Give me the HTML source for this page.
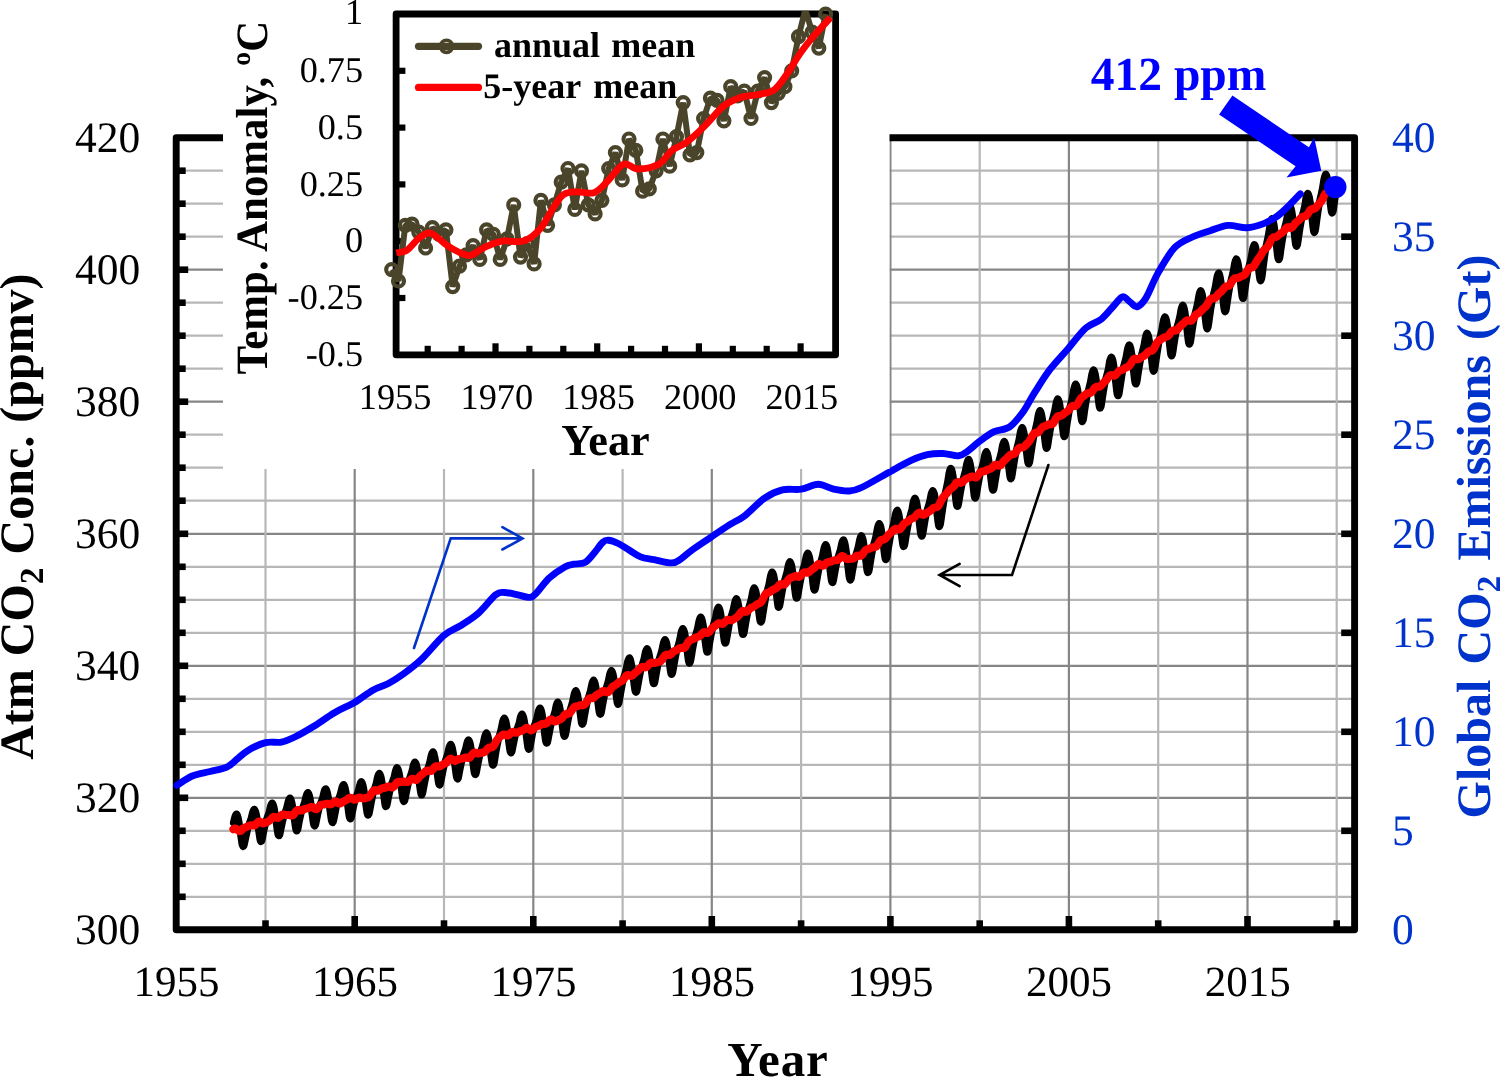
<!DOCTYPE html>
<html><head><meta charset="utf-8"><title>CO2</title>
<style>html,body{margin:0;padding:0;background:#fff;}body{width:1500px;height:1077px;position:relative;overflow:hidden;font-family:"Liberation Serif",serif;}</style></head>
<body>
<svg width="1500" height="1077" viewBox="0 0 1500 1077" style="position:absolute;left:0;top:0;will-change:transform;font-family:'Liberation Serif', serif;font-kerning:normal;text-rendering:geometricPrecision">
<rect x="0" y="0" width="1500" height="1077" fill="#fff"/>
<g stroke-width="2.2" fill="none"><line x1="176.2" x2="1354.6" y1="896.8" y2="896.8" stroke="#b7b7b7"/><line x1="176.2" x2="1354.6" y1="863.8" y2="863.8" stroke="#b7b7b7"/><line x1="176.2" x2="1354.6" y1="830.8" y2="830.8" stroke="#b7b7b7"/><line x1="176.2" x2="1354.6" y1="797.8" y2="797.8" stroke="#868686"/><line x1="176.2" x2="1354.6" y1="764.8" y2="764.8" stroke="#b7b7b7"/><line x1="176.2" x2="1354.6" y1="731.8" y2="731.8" stroke="#b7b7b7"/><line x1="176.2" x2="1354.6" y1="698.8" y2="698.8" stroke="#b7b7b7"/><line x1="176.2" x2="1354.6" y1="665.8" y2="665.8" stroke="#868686"/><line x1="176.2" x2="1354.6" y1="632.8" y2="632.8" stroke="#b7b7b7"/><line x1="176.2" x2="1354.6" y1="599.8" y2="599.8" stroke="#b7b7b7"/><line x1="176.2" x2="1354.6" y1="566.8" y2="566.8" stroke="#b7b7b7"/><line x1="176.2" x2="1354.6" y1="533.8" y2="533.8" stroke="#868686"/><line x1="176.2" x2="1354.6" y1="500.7" y2="500.7" stroke="#b7b7b7"/><line x1="176.2" x2="1354.6" y1="467.7" y2="467.7" stroke="#b7b7b7"/><line x1="176.2" x2="1354.6" y1="434.7" y2="434.7" stroke="#b7b7b7"/><line x1="176.2" x2="1354.6" y1="401.7" y2="401.7" stroke="#868686"/><line x1="176.2" x2="1354.6" y1="368.7" y2="368.7" stroke="#b7b7b7"/><line x1="176.2" x2="1354.6" y1="335.7" y2="335.7" stroke="#b7b7b7"/><line x1="176.2" x2="1354.6" y1="302.7" y2="302.7" stroke="#b7b7b7"/><line x1="176.2" x2="1354.6" y1="269.7" y2="269.7" stroke="#868686"/><line x1="176.2" x2="1354.6" y1="236.7" y2="236.7" stroke="#b7b7b7"/><line x1="176.2" x2="1354.6" y1="203.7" y2="203.7" stroke="#b7b7b7"/><line x1="176.2" x2="1354.6" y1="170.7" y2="170.7" stroke="#b7b7b7"/><line x1="265.5" x2="265.5" y1="137.7" y2="929.8" stroke="#b7b7b7"/><line x1="354.7" x2="354.7" y1="137.7" y2="929.8" stroke="#868686"/><line x1="444" x2="444" y1="137.7" y2="929.8" stroke="#b7b7b7"/><line x1="533.3" x2="533.3" y1="137.7" y2="929.8" stroke="#868686"/><line x1="622.6" x2="622.6" y1="137.7" y2="929.8" stroke="#b7b7b7"/><line x1="711.8" x2="711.8" y1="137.7" y2="929.8" stroke="#868686"/><line x1="801.1" x2="801.1" y1="137.7" y2="929.8" stroke="#b7b7b7"/><line x1="890.4" x2="890.4" y1="137.7" y2="929.8" stroke="#868686"/><line x1="979.7" x2="979.7" y1="137.7" y2="929.8" stroke="#b7b7b7"/><line x1="1068.9" x2="1068.9" y1="137.7" y2="929.8" stroke="#868686"/><line x1="1158.2" x2="1158.2" y1="137.7" y2="929.8" stroke="#b7b7b7"/><line x1="1247.5" x2="1247.5" y1="137.7" y2="929.8" stroke="#868686"/><line x1="1336.7" x2="1336.7" y1="137.7" y2="929.8" stroke="#b7b7b7"/></g>
<g stroke="#000" stroke-width="6.6" fill="none"><line x1="176.2" x2="185.7" y1="896.8" y2="896.8"/><line x1="176.2" x2="185.7" y1="863.8" y2="863.8"/><line x1="176.2" x2="185.7" y1="830.8" y2="830.8"/><line x1="176.2" x2="188.2" y1="797.8" y2="797.8"/><line x1="176.2" x2="185.7" y1="764.8" y2="764.8"/><line x1="176.2" x2="185.7" y1="731.8" y2="731.8"/><line x1="176.2" x2="185.7" y1="698.8" y2="698.8"/><line x1="176.2" x2="188.2" y1="665.8" y2="665.8"/><line x1="176.2" x2="185.7" y1="632.8" y2="632.8"/><line x1="176.2" x2="185.7" y1="599.8" y2="599.8"/><line x1="176.2" x2="185.7" y1="566.8" y2="566.8"/><line x1="176.2" x2="188.2" y1="533.8" y2="533.8"/><line x1="176.2" x2="185.7" y1="500.7" y2="500.7"/><line x1="176.2" x2="185.7" y1="467.7" y2="467.7"/><line x1="176.2" x2="185.7" y1="434.7" y2="434.7"/><line x1="176.2" x2="188.2" y1="401.7" y2="401.7"/><line x1="176.2" x2="185.7" y1="368.7" y2="368.7"/><line x1="176.2" x2="185.7" y1="335.7" y2="335.7"/><line x1="176.2" x2="185.7" y1="302.7" y2="302.7"/><line x1="176.2" x2="188.2" y1="269.7" y2="269.7"/><line x1="176.2" x2="185.7" y1="236.7" y2="236.7"/><line x1="176.2" x2="185.7" y1="203.7" y2="203.7"/><line x1="176.2" x2="185.7" y1="170.7" y2="170.7"/><line x1="265.5" x2="265.5" y1="929.8" y2="920.3"/><line x1="354.7" x2="354.7" y1="929.8" y2="916"/><line x1="444" x2="444" y1="929.8" y2="920.3"/><line x1="533.3" x2="533.3" y1="929.8" y2="916"/><line x1="622.6" x2="622.6" y1="929.8" y2="920.3"/><line x1="711.8" x2="711.8" y1="929.8" y2="916"/><line x1="801.1" x2="801.1" y1="929.8" y2="920.3"/><line x1="890.4" x2="890.4" y1="929.8" y2="916"/><line x1="979.7" x2="979.7" y1="929.8" y2="920.3"/><line x1="1068.9" x2="1068.9" y1="929.8" y2="916"/><line x1="1158.2" x2="1158.2" y1="929.8" y2="920.3"/><line x1="1247.5" x2="1247.5" y1="929.8" y2="916"/><line x1="1336.7" x2="1336.7" y1="929.8" y2="920.3"/><line x1="1354.6" x2="1341.2" y1="830.8" y2="830.8"/><line x1="1354.6" x2="1341.2" y1="731.8" y2="731.8"/><line x1="1354.6" x2="1341.2" y1="632.8" y2="632.8"/><line x1="1354.6" x2="1341.2" y1="533.8" y2="533.8"/><line x1="1354.6" x2="1341.2" y1="434.7" y2="434.7"/><line x1="1354.6" x2="1341.2" y1="335.7" y2="335.7"/><line x1="1354.6" x2="1341.2" y1="236.7" y2="236.7"/></g>
<rect x="176.2" y="137.7" width="1178.4" height="792.1" fill="none" stroke="#000" stroke-width="6.9" stroke-linejoin="round"/>
<path d="M233.5 822.7 C233.7 821.7 234.5 818.1 235 816.7 C235.5 815.2 236 814 236.5 814.1 C237 814.2 237.5 815.4 237.9 817.2 C238.4 819.1 238.9 821.9 239.4 825 C239.9 828.1 240.4 832.5 240.9 835.9 C241.4 839.2 241.9 843.7 242.4 845.3 C242.9 847 243.4 846.9 243.9 845.8 C244.4 844.7 244.9 841.2 245.4 838.9 C245.9 836.6 246.4 834.2 246.9 832.1 C247.4 830 247.9 828 248.4 826.3 C248.9 824.7 249.4 823.7 249.8 822.3 C250.3 820.9 250.8 819.6 251.3 817.9 C251.8 816.2 252.3 813.3 252.8 811.8 C253.3 810.4 253.8 809.2 254.3 809.3 C254.8 809.4 255.3 810.6 255.8 812.4 C256.3 814.2 256.8 817 257.3 820.1 C257.8 823.2 258.3 827.6 258.8 831 C259.3 834.3 259.8 838.8 260.3 840.4 C260.8 842 261.3 841.8 261.8 840.7 C262.2 839.6 262.7 836 263.2 833.7 C263.7 831.3 264.2 828.8 264.7 826.6 C265.2 824.5 265.7 822.4 266.2 820.7 C266.7 819 267.2 817.9 267.7 816.5 C268.2 815 268.7 813.7 269.2 812 C269.7 810.2 270.2 807.2 270.7 805.8 C271.2 804.3 271.7 803 272.2 803.1 C272.7 803.2 273.2 804.4 273.7 806.2 C274.2 808 274.6 810.9 275.1 814 C275.6 817.1 276.1 821.5 276.6 824.9 C277.1 828.3 277.6 832.8 278.1 834.5 C278.6 836.1 279.1 836 279.6 834.9 C280.1 833.8 280.6 830.3 281.1 828 C281.6 825.7 282.1 823.2 282.6 821.1 C283.1 818.9 283.6 816.9 284.1 815.3 C284.6 813.6 285.1 812.6 285.6 811.2 C286.1 809.7 286.6 808.5 287 806.8 C287.5 805 288 802.1 288.5 800.7 C289 799.2 289.5 798 290 798.1 C290.5 798.2 291 799.4 291.5 801.3 C292 803.1 292.5 806 293 809.1 C293.5 812.3 294 816.7 294.5 820.1 C295 823.6 295.5 828 296 829.7 C296.5 831.4 297 831.2 297.5 830.1 C298 829 298.5 825.4 298.9 823 C299.4 820.7 299.9 818.1 300.4 816 C300.9 813.8 301.4 811.8 301.9 810.1 C302.4 808.4 302.9 807.3 303.4 805.9 C303.9 804.4 304.4 803.2 304.9 801.4 C305.4 799.6 305.9 796.7 306.4 795.2 C306.9 793.8 307.4 792.5 307.9 792.6 C308.4 792.7 308.9 794 309.4 795.8 C309.9 797.7 310.4 800.6 310.9 803.8 C311.3 807 311.8 811.5 312.3 815 C312.8 818.5 313.3 823 313.8 824.7 C314.3 826.5 314.8 826.4 315.3 825.3 C315.8 824.3 316.3 820.7 316.8 818.4 C317.3 816.1 317.8 813.6 318.3 811.5 C318.8 809.4 319.3 807.4 319.8 805.8 C320.3 804.1 320.8 803.1 321.3 801.7 C321.8 800.3 322.3 799.1 322.8 797.4 C323.3 795.7 323.7 792.8 324.2 791.4 C324.7 789.9 325.2 788.7 325.7 788.9 C326.2 789 326.7 790.3 327.2 792.2 C327.7 794.1 328.2 797 328.7 800.2 C329.2 803.5 329.7 808 330.2 811.5 C330.7 815 331.2 819.5 331.7 821.2 C332.2 823 332.7 822.8 333.2 821.8 C333.7 820.7 334.2 817.1 334.7 814.7 C335.2 812.4 335.7 809.9 336.1 807.7 C336.6 805.6 337.1 803.5 337.6 801.8 C338.1 800.2 338.6 799.1 339.1 797.7 C339.6 796.3 340.1 795 340.6 793.3 C341.1 791.5 341.6 788.6 342.1 787.1 C342.6 785.7 343.1 784.5 343.6 784.6 C344.1 784.7 344.6 786 345.1 787.9 C345.6 789.9 346.1 792.8 346.6 796.1 C347.1 799.3 347.6 803.9 348 807.5 C348.5 811 349 815.7 349.5 817.4 C350 819.2 350.5 819.1 351 818.1 C351.5 817.1 352 813.5 352.5 811.2 C353 808.9 353.5 806.4 354 804.4 C354.5 802.3 355 800.2 355.5 798.6 C356 797 356.5 796 357 794.6 C357.5 793.3 358 792.1 358.5 790.3 C359 788.6 359.5 785.7 360 784.3 C360.4 782.8 360.9 781.6 361.4 781.8 C361.9 781.9 362.4 783.2 362.9 785.1 C363.4 787 363.9 790 364.4 793.2 C364.9 796.5 365.4 801 365.9 804.4 C366.4 807.9 366.9 812.4 367.4 814 C367.9 815.7 368.4 815.4 368.9 814.2 C369.4 813 369.9 809.2 370.4 806.7 C370.9 804.2 371.4 801.5 371.9 799.1 C372.4 796.8 372.8 794.6 373.3 792.7 C373.8 790.9 374.3 789.6 374.8 788 C375.3 786.4 375.8 785 376.3 783.1 C376.8 781.1 377.3 778 377.8 776.4 C378.3 774.8 378.8 773.4 379.3 773.4 C379.8 773.4 380.3 774.6 380.8 776.4 C381.3 778.2 381.8 781.2 382.3 784.4 C382.8 787.6 383.3 792.1 383.8 795.6 C384.3 799.1 384.8 803.7 385.2 805.4 C385.7 807.1 386.2 806.9 386.7 805.8 C387.2 804.7 387.7 801 388.2 798.6 C388.7 796.2 389.2 793.6 389.7 791.4 C390.2 789.2 390.7 787.1 391.2 785.4 C391.7 783.7 392.2 782.7 392.7 781.2 C393.2 779.7 393.7 778.5 394.2 776.7 C394.7 774.8 395.2 771.8 395.7 770.3 C396.2 768.8 396.7 767.6 397.1 767.7 C397.6 767.8 398.1 769 398.6 770.9 C399.1 772.8 399.6 775.8 400.1 779 C400.6 782.3 401.1 786.8 401.6 790.4 C402.1 793.9 402.6 798.6 403.1 800.3 C403.6 802 404.1 801.9 404.6 800.8 C405.1 799.6 405.6 795.9 406.1 793.5 C406.6 791.1 407.1 788.5 407.6 786.3 C408.1 784.1 408.6 782 409.1 780.2 C409.5 778.5 410 777.4 410.5 775.9 C411 774.4 411.5 773.1 412 771.3 C412.5 769.4 413 766.4 413.5 764.9 C414 763.3 414.5 762 415 762.1 C415.5 762.1 416 763.4 416.5 765.2 C417 767.1 417.5 770 418 773.2 C418.5 776.4 419 780.9 419.5 784.3 C420 787.8 420.5 792.3 421 793.9 C421.5 795.5 421.9 795.2 422.4 793.9 C422.9 792.7 423.4 788.8 423.9 786.2 C424.4 783.6 424.9 780.8 425.4 778.4 C425.9 776 426.4 773.7 426.9 771.8 C427.4 769.9 427.9 768.6 428.4 767 C428.9 765.3 429.4 763.9 429.9 761.9 C430.4 759.9 430.9 756.7 431.4 755 C431.9 753.3 432.4 751.9 432.9 751.9 C433.4 751.8 433.9 753 434.3 754.8 C434.8 756.7 435.3 759.6 435.8 762.8 C436.3 766 436.8 770.5 437.3 774 C437.8 777.5 438.3 782.1 438.8 783.8 C439.3 785.5 439.8 785.3 440.3 784 C440.8 782.8 441.3 779 441.8 776.6 C442.3 774.1 442.8 771.4 443.3 769.1 C443.8 766.8 444.3 764.6 444.8 762.8 C445.3 761 445.8 759.9 446.2 758.4 C446.7 756.8 447.2 755.5 447.7 753.6 C448.2 751.7 448.7 748.7 449.2 747.1 C449.7 745.6 450.2 744.3 450.7 744.3 C451.2 744.4 451.7 745.7 452.2 747.6 C452.7 749.6 453.2 752.6 453.7 755.9 C454.2 759.2 454.7 763.9 455.2 767.5 C455.7 771.1 456.2 775.8 456.7 777.6 C457.2 779.4 457.7 779.3 458.2 778.2 C458.6 777.1 459.1 773.4 459.6 771 C460.1 768.6 460.6 766 461.1 763.8 C461.6 761.5 462.1 759.4 462.6 757.7 C463.1 756 463.6 755 464.1 753.5 C464.6 752.1 465.1 750.8 465.6 749 C466.1 747.2 466.6 744.1 467.1 742.6 C467.6 741.1 468.1 739.8 468.6 740 C469.1 740.1 469.6 741.4 470.1 743.3 C470.6 745.3 471 748.3 471.5 751.6 C472 754.9 472.5 759.6 473 763.2 C473.5 766.8 474 771.5 474.5 773.2 C475 775 475.5 774.8 476 773.6 C476.5 772.4 477 768.6 477.5 766.1 C478 763.6 478.5 760.9 479 758.6 C479.5 756.3 480 754.1 480.5 752.3 C481 750.4 481.5 749.3 482 747.7 C482.5 746.1 483 744.7 483.4 742.8 C483.9 740.8 484.4 737.6 484.9 736 C485.4 734.4 485.9 732.9 486.4 732.9 C486.9 732.9 487.4 734.1 487.9 735.9 C488.4 737.8 488.9 740.7 489.4 743.9 C489.9 747 490.4 751.5 490.9 754.9 C491.4 758.3 491.9 762.8 492.4 764.3 C492.9 765.7 493.4 765.3 493.9 763.8 C494.4 762.3 494.9 758.2 495.3 755.4 C495.8 752.5 496.3 749.5 496.8 746.9 C497.3 744.2 497.8 741.7 498.3 739.6 C498.8 737.5 499.3 736 499.8 734.2 C500.3 732.4 500.8 730.7 501.3 728.6 C501.8 726.5 502.3 723.1 502.8 721.3 C503.3 719.6 503.8 718 504.3 718 C504.8 718 505.3 719.2 505.8 721.1 C506.3 723 506.8 726.1 507.3 729.4 C507.7 732.8 508.2 737.5 508.7 741.2 C509.2 744.9 509.7 749.7 510.2 751.5 C510.7 753.3 511.2 753.2 511.7 752.1 C512.2 751 512.7 747.3 513.2 744.9 C513.7 742.5 514.2 739.9 514.7 737.7 C515.2 735.5 515.7 733.4 516.2 731.7 C516.7 730 517.2 728.9 517.7 727.5 C518.2 726 518.7 724.8 519.2 723 C519.7 721.2 520.1 718.1 520.6 716.6 C521.1 715.1 521.6 713.9 522.1 714 C522.6 714.2 523.1 715.6 523.6 717.6 C524.1 719.6 524.6 722.7 525.1 726.1 C525.6 729.4 526.1 734.2 526.6 737.9 C527.1 741.5 527.6 746.3 528.1 748.1 C528.6 749.9 529.1 749.7 529.6 748.6 C530.1 747.4 530.6 743.5 531.1 741 C531.6 738.5 532.1 735.7 532.5 733.4 C533 731.1 533.5 728.9 534 727 C534.5 725.2 535 724.1 535.5 722.5 C536 720.9 536.5 719.6 537 717.6 C537.5 715.7 538 712.5 538.5 710.9 C539 709.3 539.5 708 540 708 C540.5 708.1 541 709.4 541.5 711.4 C542 713.3 542.5 716.4 543 719.8 C543.5 723.1 544 727.9 544.4 731.6 C544.9 735.3 545.4 740.1 545.9 741.9 C546.4 743.7 546.9 743.5 547.4 742.4 C547.9 741.2 548.4 737.4 548.9 734.9 C549.4 732.4 549.9 729.6 550.4 727.3 C550.9 725 551.4 722.8 551.9 721 C552.4 719.2 552.9 718.1 553.4 716.6 C553.9 715 554.4 713.7 554.9 711.8 C555.4 709.8 555.9 706.7 556.4 705.1 C556.8 703.5 557.3 702.1 557.8 702.2 C558.3 702.2 558.8 703.5 559.3 705.4 C559.8 707.4 560.3 710.4 560.8 713.7 C561.3 717 561.8 721.7 562.3 725.3 C562.8 728.9 563.3 733.6 563.8 735.2 C564.3 736.9 564.8 736.6 565.3 735.2 C565.8 733.8 566.3 729.8 566.8 727.1 C567.3 724.4 567.8 721.4 568.3 718.9 C568.8 716.4 569.2 714 569.7 711.9 C570.2 709.9 570.7 708.6 571.2 706.8 C571.7 705 572.2 703.5 572.7 701.4 C573.2 699.2 573.7 695.9 574.2 694.1 C574.7 692.3 575.2 690.7 575.7 690.7 C576.2 690.6 576.7 691.7 577.2 693.6 C577.7 695.4 578.2 698.4 578.7 701.6 C579.2 704.9 579.7 709.5 580.2 713.1 C580.7 716.7 581.2 721.4 581.6 723.1 C582.1 724.8 582.6 724.5 583.1 723.1 C583.6 721.8 584.1 717.8 584.6 715.1 C585.1 712.5 585.6 709.6 586.1 707.1 C586.6 704.7 587.1 702.3 587.6 700.4 C588.1 698.4 588.6 697.1 589.1 695.5 C589.6 693.8 590.1 692.3 590.6 690.3 C591.1 688.2 591.6 684.9 592.1 683.2 C592.6 681.5 593.1 680 593.5 680 C594 680 594.5 681.2 595 683.1 C595.5 685 596 688 596.5 691.3 C597 694.6 597.5 699.3 598 703 C598.5 706.6 599 711.4 599.5 713.1 C600 714.8 600.5 714.6 601 713.3 C601.5 712 602 708 602.5 705.4 C603 702.7 603.5 699.9 604 697.5 C604.5 695 605 692.7 605.5 690.8 C605.9 688.9 606.4 687.6 606.9 686 C607.4 684.3 607.9 682.8 608.4 680.8 C608.9 678.8 609.4 675.5 609.9 673.7 C610.4 672 610.9 670.6 611.4 670.5 C611.9 670.5 612.4 671.7 612.9 673.6 C613.4 675.5 613.9 678.5 614.4 681.8 C614.9 685.1 615.4 689.8 615.9 693.3 C616.4 696.9 616.9 701.6 617.4 703.3 C617.9 704.9 618.3 704.6 618.8 703.1 C619.3 701.7 619.8 697.6 620.3 694.8 C620.8 692 621.3 689 621.8 686.5 C622.3 683.9 622.8 681.4 623.3 679.4 C623.8 677.3 624.3 675.9 624.8 674.2 C625.3 672.4 625.8 670.8 626.3 668.6 C626.8 666.5 627.3 663.1 627.8 661.3 C628.3 659.5 628.8 657.9 629.3 657.9 C629.8 657.8 630.3 659 630.7 660.9 C631.2 662.7 631.7 665.8 632.2 669.1 C632.7 672.4 633.2 677.2 633.7 680.9 C634.2 684.5 634.7 689.4 635.2 691.1 C635.7 692.8 636.2 692.6 636.7 691.3 C637.2 690 637.7 685.9 638.2 683.3 C638.7 680.6 639.2 677.8 639.7 675.3 C640.2 672.9 640.7 670.5 641.2 668.6 C641.7 666.7 642.2 665.4 642.6 663.8 C643.1 662.1 643.6 660.7 644.1 658.7 C644.6 656.6 645.1 653.3 645.6 651.6 C646.1 649.9 646.6 648.5 647.1 648.5 C647.6 648.5 648.1 649.8 648.6 651.8 C649.1 653.7 649.6 656.8 650.1 660.2 C650.6 663.6 651.1 668.4 651.6 672.1 C652.1 675.8 652.6 680.7 653.1 682.4 C653.6 684.2 654.1 684 654.6 682.7 C655 681.4 655.5 677.3 656 674.7 C656.5 672 657 669.1 657.5 666.7 C658 664.2 658.5 661.9 659 659.9 C659.5 658 660 656.7 660.5 655.1 C661 653.4 661.5 651.9 662 649.9 C662.5 647.8 663 644.5 663.5 642.8 C664 641 664.5 639.6 665 639.6 C665.5 639.6 666 640.8 666.5 642.7 C667 644.7 667.4 647.8 667.9 651.1 C668.4 654.5 668.9 659.3 669.4 663 C669.9 666.7 670.4 671.5 670.9 673.3 C671.4 675 671.9 674.7 672.4 673.3 C672.9 672 673.4 667.8 673.9 665.1 C674.4 662.3 674.9 659.4 675.4 656.8 C675.9 654.3 676.4 651.9 676.9 649.9 C677.4 647.8 677.9 646.5 678.4 644.8 C678.9 643 679.4 641.5 679.8 639.4 C680.3 637.2 680.8 633.8 681.3 632 C681.8 630.2 682.3 628.7 682.8 628.6 C683.3 628.6 683.8 629.8 684.3 631.7 C684.8 633.6 685.3 636.7 685.8 640 C686.3 643.4 686.8 648.2 687.3 651.9 C687.8 655.5 688.3 660.4 688.8 662.1 C689.3 663.8 689.8 663.5 690.3 662.1 C690.8 660.7 691.3 656.6 691.8 653.8 C692.2 651 692.7 648 693.2 645.5 C693.7 642.9 694.2 640.4 694.7 638.4 C695.2 636.4 695.7 635 696.2 633.3 C696.7 631.5 697.2 630 697.7 627.8 C698.2 625.7 698.7 622.3 699.2 620.5 C699.7 618.7 700.2 617.2 700.7 617.1 C701.2 617.1 701.7 618.3 702.2 620.3 C702.7 622.2 703.2 625.3 703.7 628.7 C704.1 632.1 704.6 636.9 705.1 640.7 C705.6 644.4 706.1 649.3 706.6 651 C707.1 652.8 707.6 652.5 708.1 651.2 C708.6 649.8 709.1 645.7 709.6 643 C710.1 640.2 710.6 637.3 711.1 634.7 C711.6 632.2 712.1 629.8 712.6 627.8 C713.1 625.8 713.6 624.5 714.1 622.8 C714.6 621.1 715.1 619.6 715.6 617.5 C716.1 615.4 716.5 612 717 610.3 C717.5 608.6 718 607.1 718.5 607.1 C719 607.1 719.5 608.4 720 610.4 C720.5 612.4 721 615.5 721.5 619 C722 622.4 722.5 627.4 723 631.1 C723.5 634.9 724 639.9 724.5 641.8 C725 643.6 725.5 643.4 726 642.1 C726.5 640.8 727 636.7 727.5 634 C728 631.3 728.5 628.4 728.9 625.9 C729.4 623.4 729.9 621.1 730.4 619.1 C730.9 617.2 731.4 615.9 731.9 614.3 C732.4 612.6 732.9 611.1 733.4 609 C733.9 607 734.4 603.6 734.9 601.9 C735.4 600.2 735.9 598.7 736.4 598.7 C736.9 598.7 737.4 600 737.9 602 C738.4 604 738.9 607.1 739.4 610.6 C739.9 614.1 740.4 619 740.8 622.7 C741.3 626.5 741.8 631.5 742.3 633.2 C742.8 635 743.3 634.7 743.8 633.4 C744.3 632 744.8 627.8 745.3 625 C745.8 622.3 746.3 619.2 746.8 616.7 C747.3 614.1 747.8 611.6 748.3 609.6 C748.8 607.5 749.3 606.2 749.8 604.4 C750.3 602.6 750.8 601 751.3 598.9 C751.8 596.7 752.3 593.2 752.8 591.4 C753.2 589.5 753.7 587.9 754.2 587.8 C754.7 587.8 755.2 589 755.7 590.9 C756.2 592.8 756.7 595.8 757.2 599.2 C757.7 602.6 758.2 607.4 758.7 611 C759.2 614.7 759.7 619.5 760.2 621.1 C760.7 622.7 761.2 622.3 761.7 620.8 C762.2 619.2 762.7 614.8 763.2 611.9 C763.7 608.9 764.2 605.7 764.7 602.9 C765.2 600.2 765.6 597.5 766.1 595.3 C766.6 593.1 767.1 591.6 767.6 589.6 C768.1 587.7 768.6 586 769.1 583.7 C769.6 581.4 770.1 577.8 770.6 575.8 C771.1 573.9 771.6 572.2 772.1 572.1 C772.6 572 773.1 573.2 773.6 575.1 C774.1 577 774.6 580.1 775.1 583.5 C775.6 587 776.1 591.9 776.6 595.6 C777.1 599.4 777.6 604.4 778 606.2 C778.5 607.9 779 607.6 779.5 606.3 C780 604.9 780.5 600.7 781 597.9 C781.5 595.1 782 592.1 782.5 589.5 C783 587 783.5 584.5 784 582.5 C784.5 580.5 785 579.2 785.5 577.5 C786 575.7 786.5 574.2 787 572.1 C787.5 570 788 566.5 788.5 564.8 C789 563 789.5 561.5 789.9 561.5 C790.4 561.5 790.9 562.9 791.4 564.9 C791.9 566.9 792.4 570.1 792.9 573.7 C793.4 577.2 793.9 582.2 794.4 586.1 C794.9 589.9 795.4 595 795.9 596.9 C796.4 598.7 796.9 598.5 797.4 597.2 C797.9 595.8 798.4 591.7 798.9 588.9 C799.4 586.2 799.9 583.2 800.4 580.7 C800.9 578.1 801.4 575.7 801.9 573.7 C802.3 571.8 802.8 570.5 803.3 568.8 C803.8 567.1 804.3 565.6 804.8 563.5 C805.3 561.4 805.8 558 806.3 556.3 C806.8 554.5 807.3 553 807.8 553.1 C808.3 553.1 808.8 554.5 809.3 556.5 C809.8 558.6 810.3 561.9 810.8 565.4 C811.3 569 811.8 574 812.3 577.9 C812.8 581.8 813.3 586.9 813.8 588.8 C814.3 590.6 814.7 590.4 815.2 589 C815.7 587.7 816.2 583.5 816.7 580.7 C817.2 577.9 817.7 574.9 818.2 572.4 C818.7 569.8 819.2 567.4 819.7 565.4 C820.2 563.4 820.7 562.1 821.2 560.4 C821.7 558.6 822.2 557.1 822.7 555 C823.2 552.9 823.7 549.5 824.2 547.8 C824.7 546 825.2 544.5 825.7 544.6 C826.2 544.7 826.7 546.1 827.1 548.2 C827.6 550.3 828.1 553.6 828.6 557.2 C829.1 560.9 829.6 566 830.1 570 C830.6 574 831.1 579.2 831.6 581.1 C832.1 583 832.6 582.9 833.1 581.6 C833.6 580.4 834.1 576.3 834.6 573.6 C835.1 570.9 835.6 568 836.1 565.6 C836.6 563.1 837.1 560.8 837.6 558.9 C838.1 557.1 838.6 555.9 839 554.3 C839.5 552.7 840 551.4 840.5 549.4 C841 547.5 841.5 544.2 842 542.6 C842.5 541 843 539.7 843.5 539.9 C844 540.2 844.5 541.7 845 544 C845.5 546.3 846 549.8 846.5 553.6 C847 557.4 847.5 562.7 848 566.8 C848.5 571 849 576.3 849.5 578.4 C850 580.5 850.5 580.4 851 579.2 C851.4 578.1 851.9 574 852.4 571.3 C852.9 568.7 853.4 565.8 853.9 563.3 C854.4 560.9 854.9 558.5 855.4 556.6 C855.9 554.6 856.4 553.4 856.9 551.7 C857.4 550 857.9 548.5 858.4 546.4 C858.9 544.3 859.4 540.8 859.9 539 C860.4 537.2 860.9 535.7 861.4 535.7 C861.9 535.8 862.4 537.1 862.9 539.2 C863.4 541.2 863.8 544.5 864.3 548 C864.8 551.6 865.3 556.7 865.8 560.5 C866.3 564.4 866.8 569.5 867.3 571.3 C867.8 573.1 868.3 572.8 868.8 571.3 C869.3 569.9 869.8 565.5 870.3 562.6 C870.8 559.7 871.3 556.5 871.8 553.8 C872.3 551.1 872.8 548.5 873.3 546.3 C873.8 544.2 874.3 542.7 874.8 540.9 C875.3 539 875.8 537.3 876.2 535 C876.7 532.8 877.2 529.1 877.7 527.2 C878.2 525.3 878.7 523.6 879.2 523.5 C879.7 523.5 880.2 524.7 880.7 526.7 C881.2 528.7 881.7 531.9 882.2 535.4 C882.7 538.9 883.2 543.9 883.7 547.8 C884.2 551.6 884.7 556.7 885.2 558.5 C885.7 560.2 886.2 559.9 886.7 558.4 C887.2 556.9 887.7 552.5 888.1 549.5 C888.6 546.5 889.1 543.4 889.6 540.6 C890.1 537.9 890.6 535.3 891.1 533.1 C891.6 530.9 892.1 529.5 892.6 527.6 C893.1 525.7 893.6 524 894.1 521.7 C894.6 519.4 895.1 515.8 895.6 513.8 C896.1 511.9 896.6 510.3 897.1 510.2 C897.6 510.1 898.1 511.4 898.6 513.4 C899.1 515.3 899.6 518.6 900.1 522.1 C900.5 525.6 901 530.7 901.5 534.6 C902 538.4 902.5 543.5 903 545.3 C903.5 547.1 904 546.8 904.5 545.3 C905 543.8 905.5 539.4 906 536.5 C906.5 533.6 907 530.4 907.5 527.7 C908 525 908.5 522.4 909 520.3 C909.5 518.1 910 516.7 910.5 514.9 C911 513 911.5 511.4 912 509.2 C912.5 506.9 912.9 503.3 913.4 501.5 C913.9 499.6 914.4 498 914.9 498 C915.4 498 915.9 499.4 916.4 501.5 C916.9 503.6 917.4 506.9 917.9 510.5 C918.4 514.2 918.9 519.4 919.4 523.4 C919.9 527.5 920.4 532.7 920.9 534.7 C921.4 536.6 921.9 536.5 922.4 535.2 C922.9 533.8 923.4 529.6 923.9 526.8 C924.4 524 924.9 521 925.3 518.5 C925.8 515.9 926.3 513.5 926.8 511.5 C927.3 509.5 927.8 508.3 928.3 506.5 C928.8 504.8 929.3 503.3 929.8 501.2 C930.3 499.1 930.8 495.5 931.3 493.8 C931.8 492 932.3 490.4 932.8 490.5 C933.3 490.5 933.8 491.9 934.3 493.9 C934.8 496 935.3 499.3 935.8 502.8 C936.3 506.4 936.8 511.4 937.2 515.2 C937.7 519 938.2 524 938.7 525.6 C939.2 527.3 939.7 526.7 940.2 524.9 C940.7 523.1 941.2 518.3 941.7 515 C942.2 511.7 942.7 508.1 943.2 504.9 C943.7 501.7 944.2 498.7 944.7 496 C945.2 493.4 945.7 491.4 946.2 489.1 C946.7 486.7 947.2 484.6 947.7 481.9 C948.2 479.1 948.7 475.1 949.2 472.8 C949.6 470.6 950.1 468.6 950.6 468.4 C951.1 468.1 951.6 469.3 952.1 471.3 C952.6 473.3 953.1 476.6 953.6 480.3 C954.1 484 954.6 489.3 955.1 493.4 C955.6 497.5 956.1 502.8 956.6 504.9 C957.1 506.9 957.6 506.7 958.1 505.4 C958.6 504.1 959.1 499.8 959.6 497 C960.1 494.2 960.6 491.1 961.1 488.5 C961.6 485.9 962 483.4 962.5 481.3 C963 479.2 963.5 477.9 964 476.1 C964.5 474.3 965 472.7 965.5 470.5 C966 468.3 966.5 464.7 967 462.8 C967.5 461 968 459.4 968.5 459.4 C969 459.5 969.5 460.9 970 463 C970.5 465.1 971 468.5 971.5 472.2 C972 475.9 972.5 481.2 973 485.2 C973.5 489.3 974 494.6 974.4 496.6 C974.9 498.6 975.4 498.4 975.9 497 C976.4 495.7 976.9 491.3 977.4 488.5 C977.9 485.7 978.4 482.6 978.9 480 C979.4 477.4 979.9 474.9 980.4 472.9 C980.9 470.8 981.4 469.5 981.9 467.8 C982.4 466 982.9 464.5 983.4 462.4 C983.9 460.2 984.4 456.6 984.9 454.8 C985.4 453 985.9 451.5 986.3 451.5 C986.8 451.6 987.3 453 987.8 455.2 C988.3 457.3 988.8 460.7 989.3 464.4 C989.8 468.2 990.3 473.4 990.8 477.5 C991.3 481.5 991.8 486.9 992.3 488.8 C992.8 490.7 993.3 490.4 993.8 489 C994.3 487.6 994.8 483.2 995.3 480.2 C995.8 477.3 996.3 474.1 996.8 471.4 C997.3 468.7 997.8 466.1 998.3 463.9 C998.7 461.8 999.2 460.4 999.7 458.5 C1000.2 456.7 1000.7 455 1001.2 452.8 C1001.7 450.5 1002.2 446.8 1002.7 444.9 C1003.2 443 1003.7 441.3 1004.2 441.3 C1004.7 441.2 1005.2 442.6 1005.7 444.6 C1006.2 446.7 1006.7 450 1007.2 453.7 C1007.7 457.3 1008.2 462.5 1008.7 466.5 C1009.2 470.5 1009.7 475.7 1010.2 477.6 C1010.7 479.4 1011.1 479 1011.6 477.5 C1012.1 476 1012.6 471.4 1013.1 468.4 C1013.6 465.3 1014.1 462.1 1014.6 459.2 C1015.1 456.4 1015.6 453.7 1016.1 451.5 C1016.6 449.2 1017.1 447.7 1017.6 445.7 C1018.1 443.8 1018.6 442 1019.1 439.6 C1019.6 437.2 1020.1 433.4 1020.6 431.4 C1021.1 429.4 1021.6 427.7 1022.1 427.5 C1022.6 427.4 1023.1 428.7 1023.5 430.6 C1024 432.6 1024.5 435.9 1025 439.4 C1025.5 443 1026 448.1 1026.5 452 C1027 455.9 1027.5 461.1 1028 462.8 C1028.5 464.6 1029 464.1 1029.5 462.4 C1030 460.8 1030.5 456.1 1031 452.9 C1031.5 449.8 1032 446.4 1032.5 443.4 C1033 440.5 1033.5 437.7 1034 435.3 C1034.5 433 1035 431.4 1035.4 429.3 C1035.9 427.3 1036.4 425.4 1036.9 423 C1037.4 420.5 1037.9 416.7 1038.4 414.6 C1038.9 412.6 1039.4 410.8 1039.9 410.6 C1040.4 410.5 1040.9 411.8 1041.4 413.8 C1041.9 415.8 1042.4 419.2 1042.9 422.8 C1043.4 426.5 1043.9 431.7 1044.4 435.8 C1044.9 439.8 1045.4 445.1 1045.9 447 C1046.4 448.9 1046.9 448.6 1047.4 447.1 C1047.8 445.7 1048.3 441.2 1048.8 438.2 C1049.3 435.2 1049.8 432 1050.3 429.3 C1050.8 426.5 1051.3 423.9 1051.8 421.7 C1052.3 419.6 1052.8 418.2 1053.3 416.3 C1053.8 414.4 1054.3 412.8 1054.8 410.5 C1055.3 408.2 1055.8 404.5 1056.3 402.6 C1056.8 400.6 1057.3 399 1057.8 398.9 C1058.3 398.9 1058.8 400.3 1059.3 402.3 C1059.8 404.4 1060.2 407.8 1060.7 411.5 C1061.2 415.1 1061.7 420.4 1062.2 424.4 C1062.7 428.4 1063.2 433.7 1063.7 435.5 C1064.2 437.3 1064.7 436.9 1065.2 435.3 C1065.7 433.7 1066.2 429.1 1066.7 425.9 C1067.2 422.8 1067.7 419.5 1068.2 416.6 C1068.7 413.7 1069.2 410.9 1069.7 408.6 C1070.2 406.3 1070.7 404.7 1071.2 402.7 C1071.7 400.7 1072.2 398.9 1072.6 396.4 C1073.1 394 1073.6 390.1 1074.1 388.1 C1074.6 386 1075.1 384.3 1075.6 384.1 C1076.1 384 1076.6 385.3 1077.1 387.3 C1077.6 389.3 1078.1 392.7 1078.6 396.3 C1079.1 400 1079.6 405.2 1080.1 409.2 C1080.6 413.3 1081.1 418.6 1081.6 420.4 C1082.1 422.2 1082.6 421.9 1083.1 420.3 C1083.6 418.7 1084.1 414.1 1084.5 411 C1085 407.9 1085.5 404.6 1086 401.7 C1086.5 398.8 1087 396.1 1087.5 393.8 C1088 391.6 1088.5 390 1089 388.1 C1089.5 386.1 1090 384.4 1090.5 382 C1091 379.6 1091.5 375.8 1092 373.8 C1092.5 371.7 1093 370 1093.5 369.9 C1094 369.8 1094.5 371.2 1095 373.3 C1095.5 375.3 1096 378.7 1096.5 382.4 C1096.9 386.1 1097.4 391.4 1097.9 395.5 C1098.4 399.6 1098.9 404.9 1099.4 406.8 C1099.9 408.7 1100.4 408.3 1100.9 406.8 C1101.4 405.3 1101.9 400.7 1102.4 397.6 C1102.9 394.5 1103.4 391.2 1103.9 388.4 C1104.4 385.5 1104.9 382.8 1105.4 380.6 C1105.9 378.3 1106.4 376.8 1106.9 374.9 C1107.4 372.9 1107.9 371.2 1108.4 368.9 C1108.9 366.5 1109.3 362.7 1109.8 360.7 C1110.3 358.7 1110.8 357 1111.3 357 C1111.8 356.9 1112.3 358.3 1112.8 360.4 C1113.3 362.5 1113.8 366 1114.3 369.7 C1114.8 373.5 1115.3 378.8 1115.8 382.9 C1116.3 387 1116.8 392.5 1117.3 394.4 C1117.8 396.3 1118.3 396 1118.8 394.4 C1119.3 392.9 1119.8 388.3 1120.3 385.3 C1120.8 382.2 1121.3 378.9 1121.7 376.1 C1122.2 373.3 1122.7 370.6 1123.2 368.3 C1123.7 366.1 1124.2 364.6 1124.7 362.7 C1125.2 360.8 1125.7 359.1 1126.2 356.7 C1126.7 354.4 1127.2 350.6 1127.7 348.6 C1128.2 346.6 1128.7 344.9 1129.2 344.9 C1129.7 344.9 1130.2 346.2 1130.7 348.4 C1131.2 350.5 1131.7 354 1132.2 357.8 C1132.7 361.5 1133.2 366.9 1133.6 371.1 C1134.1 375.2 1134.6 380.7 1135.1 382.6 C1135.6 384.6 1136.1 384.3 1136.6 382.8 C1137.1 381.3 1137.6 376.7 1138.1 373.6 C1138.6 370.5 1139.1 367.2 1139.6 364.4 C1140.1 361.6 1140.6 358.9 1141.1 356.7 C1141.6 354.4 1142.1 353 1142.6 351 C1143.1 349.1 1143.6 347.4 1144.1 345 C1144.6 342.7 1145.1 338.8 1145.6 336.8 C1146 334.8 1146.5 333.1 1147 333 C1147.5 333 1148 334.3 1148.5 336.4 C1149 338.6 1149.5 342 1150 345.7 C1150.5 349.4 1151 354.7 1151.5 358.8 C1152 362.9 1152.5 368.2 1153 370.1 C1153.5 371.9 1154 371.4 1154.5 369.8 C1155 368.1 1155.5 363.3 1156 360.1 C1156.5 356.8 1157 353.4 1157.5 350.4 C1158 347.3 1158.4 344.5 1158.9 342.1 C1159.4 339.7 1159.9 338 1160.4 335.9 C1160.9 333.8 1161.4 332 1161.9 329.5 C1162.4 327 1162.9 323 1163.4 320.9 C1163.9 318.8 1164.4 317 1164.9 316.8 C1165.4 316.7 1165.9 318 1166.4 320.2 C1166.9 322.3 1167.4 325.7 1167.9 329.5 C1168.4 333.2 1168.9 338.7 1169.4 342.8 C1169.9 347 1170.4 352.5 1170.8 354.4 C1171.3 356.4 1171.8 356.1 1172.3 354.6 C1172.8 353.1 1173.3 348.4 1173.8 345.4 C1174.3 342.3 1174.8 339 1175.3 336.2 C1175.8 333.3 1176.3 330.6 1176.8 328.4 C1177.3 326.2 1177.8 324.7 1178.3 322.8 C1178.8 320.9 1179.3 319.2 1179.8 316.8 C1180.3 314.5 1180.8 310.7 1181.3 308.7 C1181.8 306.7 1182.3 305 1182.7 305 C1183.2 304.9 1183.7 306.3 1184.2 308.5 C1184.7 310.6 1185.2 314.1 1185.7 317.9 C1186.2 321.7 1186.7 327.1 1187.2 331.3 C1187.7 335.4 1188.2 340.9 1188.7 342.8 C1189.2 344.7 1189.7 344.4 1190.2 342.8 C1190.7 341.2 1191.2 336.4 1191.7 333.3 C1192.2 330.1 1192.7 326.7 1193.2 323.7 C1193.7 320.8 1194.2 318 1194.7 315.6 C1195.1 313.3 1195.6 311.7 1196.1 309.7 C1196.6 307.6 1197.1 305.8 1197.6 303.3 C1198.1 300.8 1198.6 296.9 1199.1 294.8 C1199.6 292.7 1200.1 290.9 1200.6 290.7 C1201.1 290.6 1201.6 291.9 1202.1 294 C1202.6 296 1203.1 299.4 1203.6 303.2 C1204.1 306.9 1204.6 312.2 1205.1 316.3 C1205.6 320.4 1206.1 325.8 1206.6 327.6 C1207.1 329.4 1207.5 328.9 1208 327.2 C1208.5 325.4 1209 320.6 1209.5 317.3 C1210 314 1210.5 310.4 1211 307.3 C1211.5 304.3 1212 301.3 1212.5 298.9 C1213 296.4 1213.5 294.7 1214 292.6 C1214.5 290.4 1215 288.5 1215.5 286 C1216 283.4 1216.5 279.4 1217 277.2 C1217.5 275 1218 273.1 1218.5 273 C1219 272.8 1219.5 274.1 1219.9 276.2 C1220.4 278.3 1220.9 281.7 1221.4 285.5 C1221.9 289.3 1222.4 294.7 1222.9 298.9 C1223.4 303 1223.9 308.5 1224.4 310.4 C1224.9 312.4 1225.4 312 1225.9 310.4 C1226.4 308.8 1226.9 304 1227.4 300.9 C1227.9 297.7 1228.4 294.3 1228.9 291.4 C1229.4 288.4 1229.9 285.6 1230.4 283.3 C1230.9 281 1231.4 279.5 1231.8 277.5 C1232.3 275.5 1232.8 273.7 1233.3 271.3 C1233.8 268.8 1234.3 264.9 1234.8 262.8 C1235.3 260.8 1235.8 259 1236.3 258.9 C1236.8 258.9 1237.3 260.3 1237.8 262.4 C1238.3 264.6 1238.8 268 1239.3 271.9 C1239.8 275.7 1240.3 281.2 1240.8 285.4 C1241.3 289.6 1241.8 295.1 1242.3 297.1 C1242.8 299 1243.3 298.7 1243.8 297.1 C1244.2 295.5 1244.7 290.7 1245.2 287.5 C1245.7 284.3 1246.2 280.9 1246.7 277.9 C1247.2 275 1247.7 272.2 1248.2 269.8 C1248.7 267.5 1249.2 265.9 1249.7 263.8 C1250.2 261.8 1250.7 260 1251.2 257.4 C1251.7 254.9 1252.2 250.9 1252.7 248.8 C1253.2 246.6 1253.7 244.8 1254.2 244.6 C1254.7 244.4 1255.2 245.7 1255.7 247.7 C1256.2 249.7 1256.6 253 1257.1 256.6 C1257.6 260.2 1258.1 265.4 1258.6 269.3 C1259.1 273.2 1259.6 278.4 1260.1 279.9 C1260.6 281.4 1261.1 280.6 1261.6 278.5 C1262.1 276.4 1262.6 271.1 1263.1 267.3 C1263.6 263.6 1264.1 259.6 1264.6 256.1 C1265.1 252.6 1265.6 249.3 1266.1 246.4 C1266.6 243.6 1267.1 241.6 1267.6 239.2 C1268.1 236.8 1268.6 234.6 1269 231.9 C1269.5 229.2 1270 225 1270.5 222.8 C1271 220.5 1271.5 218.7 1272 218.6 C1272.5 218.5 1273 219.9 1273.5 222.2 C1274 224.4 1274.5 228.1 1275 232.1 C1275.5 236.1 1276 241.7 1276.5 246.1 C1277 250.4 1277.5 256.2 1278 258.2 C1278.5 260.3 1279 260 1279.5 258.4 C1280 256.9 1280.5 252.1 1280.9 248.9 C1281.4 245.8 1281.9 242.3 1282.4 239.3 C1282.9 236.4 1283.4 233.5 1283.9 231.2 C1284.4 228.8 1284.9 227.3 1285.4 225.2 C1285.9 223.1 1286.4 221.3 1286.9 218.8 C1287.4 216.3 1287.9 212.3 1288.4 210.2 C1288.9 208.1 1289.4 206.3 1289.9 206.2 C1290.4 206.2 1290.9 207.6 1291.4 209.7 C1291.9 211.9 1292.4 215.4 1292.9 219.3 C1293.3 223.2 1293.8 228.8 1294.3 233 C1294.8 237.3 1295.3 243 1295.8 245 C1296.3 247 1296.8 246.6 1297.3 245.1 C1297.8 243.5 1298.3 238.7 1298.8 235.5 C1299.3 232.3 1299.8 228.9 1300.3 226 C1300.8 223.1 1301.3 220.2 1301.8 217.9 C1302.3 215.6 1302.8 214.1 1303.3 212.1 C1303.8 210.1 1304.3 208.3 1304.8 205.8 C1305.3 203.4 1305.7 199.4 1306.2 197.3 C1306.7 195.2 1307.2 193.4 1307.7 193.3 C1308.2 193.2 1308.7 194.6 1309.2 196.8 C1309.7 198.9 1310.2 202.4 1310.7 206.3 C1311.2 210.1 1311.7 215.6 1312.2 219.8 C1312.7 223.9 1313.2 229.5 1313.7 231.3 C1314.2 233.2 1314.7 232.6 1315.2 230.8 C1315.7 229.1 1316.2 224 1316.7 220.6 C1317.2 217.2 1317.7 213.5 1318.1 210.4 C1318.6 207.2 1319.1 204.1 1319.6 201.5 C1320.1 199 1320.6 197.2 1321.1 195 C1321.6 192.7 1322.1 190.7 1322.6 188 C1323.1 185.3 1323.6 181.1 1324.1 178.8 C1324.6 176.6 1325.1 174.6 1325.6 174.3 C1326.1 174.1 1326.6 175.4 1327.1 177.4 C1327.6 179.5 1328.1 183 1328.6 186.8 C1329.1 190.6 1329.6 196 1330 200.2 C1330.5 204.4 1331 210 1331.5 211.8 C1332 213.7 1332.5 213.2 1333 211.5 C1333.5 209.8 1334 204.8 1334.5 201.5 C1335 198.1 1335.5 194.5 1336 191.4 C1336.5 188.3 1337.2 184.3 1337.5 182.9" fill="none" stroke="#000" stroke-width="7.2" stroke-linecap="round" stroke-linejoin="round"/>
<path d="M233.3 829.2 L234.8 828.4 L236.3 828.8 L237.8 830.2 L239.3 831.2 L240.8 830.8 L242.3 829.3 L243.7 828 L245.2 827.3 L246.7 826.9 L248.2 826.2 L249.7 825.4 L251.2 825.2 L252.7 825.5 L254.2 825.6 L255.7 824.6 L257.1 822.8 L258.6 821.6 L260.1 821.8 L261.6 822.9 L263.1 823.5 L264.6 823.1 L266.1 822.4 L267.6 821.7 L269 821.1 L270.5 819.8 L272 818.1 L273.5 816.8 L275 816.9 L276.5 817.7 L278 817.9 L279.5 816.9 L280.9 815.4 L282.4 814.5 L283.9 814.6 L285.4 815 L286.9 815 L288.4 814.9 L289.9 815.1 L291.4 815.6 L292.8 815.4 L294.3 813.8 L295.8 811.5 L297.3 810.1 L298.8 810 L300.3 810.6 L301.8 810.6 L303.3 809.8 L304.8 808.9 L306.2 808.6 L307.7 808.4 L309.2 807.8 L310.7 807 L312.2 806.9 L313.7 807.9 L315.2 809.1 L316.7 809.2 L318.1 807.8 L319.6 805.9 L321.1 804.8 L322.6 804.6 L324.1 804.5 L325.6 804 L327.1 803.7 L328.6 803.9 L330 804.4 L331.5 804.2 L333 803 L334.5 801.7 L336 801.4 L337.5 802.4 L339 803.5 L340.5 803.5 L341.9 802.6 L343.4 801.5 L344.9 800.7 L346.4 800 L347.9 798.9 L349.4 797.9 L350.9 797.7 L352.4 798.7 L353.9 799.8 L355.3 799.8 L356.8 798.7 L358.3 797.6 L359.8 797.4 L361.3 798.1 L362.8 798.5 L364.3 798.4 L365.8 797.9 L367.2 797.6 L368.7 797.1 L370.2 795.6 L371.7 793.1 L373.2 790.9 L374.7 790 L376.2 790.4 L377.7 790.8 L379.1 790.2 L380.6 789.1 L382.1 788.3 L383.6 788 L385.1 787.8 L386.6 787.1 L388.1 786.4 L389.6 786.5 L391 787.3 L392.5 787.6 L394 786.4 L395.5 784.2 L397 782.4 L398.5 781.8 L400 782 L401.5 782 L403 781.7 L404.4 781.6 L405.9 781.9 L407.4 782.1 L408.9 781.3 L410.4 779.8 L411.9 778.8 L413.4 779 L414.9 779.9 L416.3 780.1 L417.8 778.9 L419.3 776.9 L420.8 775.3 L422.3 774.1 L423.8 772.9 L425.3 771.5 L426.8 770.4 L428.2 770.4 L429.7 770.9 L431.2 770.9 L432.7 769.6 L434.2 767.6 L435.7 766.3 L437.2 766.2 L438.7 766.5 L440.1 766.2 L441.6 765.3 L443.1 764.4 L444.6 763.7 L446.1 762.9 L447.6 761.3 L449.1 759.4 L450.6 758.5 L452.1 759.1 L453.5 760.4 L455 761 L456.5 760.4 L458 759.4 L459.5 758.9 L461 758.8 L462.5 758.6 L464 757.9 L465.4 757.4 L466.9 757.7 L468.4 758.1 L469.9 757.5 L471.4 755.6 L472.9 753.5 L474.4 752.4 L475.9 752.7 L477.3 753.4 L478.8 753.5 L480.3 753 L481.8 752.7 L483.3 752.5 L484.8 751.9 L486.3 750.3 L487.8 748.5 L489.2 747.5 L490.7 747.5 L492.2 747.3 L493.7 745.9 L495.2 743.2 L496.7 740.4 L498.2 738.4 L499.7 737.2 L501.2 736 L502.6 734.9 L504.1 734.4 L505.6 734.9 L507.1 735.6 L508.6 735.3 L510.1 733.7 L511.6 732.2 L513.1 731.8 L514.5 732.4 L516 732.8 L517.5 732.5 L519 731.6 L520.5 731 L522 730.7 L523.5 730 L525 728.8 L526.4 727.8 L527.9 728.1 L529.4 729.4 L530.9 730.4 L532.4 730 L533.9 728.5 L535.4 727 L536.9 726.3 L538.3 726 L539.8 725.3 L541.3 724.3 L542.8 723.8 L544.3 723.9 L545.8 723.8 L547.3 722.7 L548.8 720.8 L550.3 719.5 L551.7 719.6 L553.2 720.7 L554.7 721.5 L556.2 721.3 L557.7 720.5 L559.2 719.9 L560.7 719.3 L562.2 718 L563.6 716.1 L565.1 714.4 L566.6 713.8 L568.1 713.9 L569.6 713.3 L571.1 711.5 L572.6 709 L574.1 707.2 L575.5 706.5 L577 706.3 L578.5 705.9 L580 705.3 L581.5 705.1 L583 705.2 L584.5 704.7 L586 702.9 L587.4 700.4 L588.9 698.6 L590.4 698.1 L591.9 698.3 L593.4 697.9 L594.9 696.6 L596.4 695.1 L597.9 694.2 L599.4 693.5 L600.8 692.6 L602.3 691.4 L603.8 690.9 L605.3 691.5 L606.8 692.4 L608.3 692.2 L609.8 690.5 L611.3 688.2 L612.7 686.5 L614.2 685.7 L615.7 685 L617.2 683.8 L618.7 682.5 L620.2 681.6 L621.7 681.1 L623.2 680 L624.6 678 L626.1 675.9 L627.6 674.9 L629.1 675.3 L630.6 676 L632.1 675.7 L633.6 674.4 L635.1 672.9 L636.5 671.8 L638 670.7 L639.5 669.2 L641 667.6 L642.5 666.8 L644 667 L645.5 667.4 L647 666.8 L648.5 665 L649.9 663.3 L651.4 662.6 L652.9 662.8 L654.4 663.1 L655.9 662.7 L657.4 662.1 L658.9 661.8 L660.4 661.4 L661.8 660 L663.3 657.7 L664.8 655.5 L666.3 654.6 L667.8 654.8 L669.3 655.1 L670.8 654.3 L672.3 652.8 L673.7 651.4 L675.2 650.7 L676.7 650.1 L678.2 649.1 L679.7 648.1 L681.2 647.8 L682.7 648.1 L684.2 648 L685.6 646.5 L687.1 643.8 L688.6 641.4 L690.1 640.1 L691.6 639.7 L693.1 639.2 L694.6 638.2 L696.1 637.3 L697.6 636.9 L699 636.5 L700.5 635.3 L702 633.6 L703.5 632.2 L705 632.1 L706.5 632.9 L708 633 L709.5 631.8 L710.9 629.7 L712.4 628 L713.9 626.8 L715.4 625.7 L716.9 624.4 L718.4 623.3 L719.9 623.2 L721.4 623.8 L722.8 623.9 L724.3 622.8 L725.8 621 L727.3 619.8 L728.8 619.8 L730.3 620.3 L731.8 620.3 L733.3 619.4 L734.7 618.5 L736.2 617.7 L737.7 616.6 L739.2 614.8 L740.7 612.5 L742.2 611.1 L743.7 611.1 L745.2 611.8 L746.7 611.8 L748.1 610.6 L749.6 608.9 L751.1 607.8 L752.6 607.2 L754.1 606.5 L755.6 605.3 L757.1 604.2 L758.6 603.6 L760 603.1 L761.5 601.6 L763 598.8 L764.5 595.6 L766 593.4 L767.5 592.6 L769 592.3 L770.5 591.6 L771.9 590.4 L773.4 589.5 L774.9 588.9 L776.4 588.2 L777.9 586.7 L779.4 584.9 L780.9 584.1 L782.4 584.3 L783.8 584.7 L785.3 583.9 L786.8 581.9 L788.3 579.7 L789.8 578.3 L791.3 577.7 L792.8 577.1 L794.3 576.3 L795.8 576 L797.2 576.4 L798.7 576.9 L800.2 576.4 L801.7 574.7 L803.2 572.9 L804.7 572.2 L806.2 572.5 L807.7 572.8 L809.1 572 L810.6 570.7 L812.1 569.4 L813.6 568.5 L815.1 567.3 L816.6 565.6 L818.1 564.2 L819.6 564 L821 564.9 L822.5 565.8 L824 565.4 L825.5 563.9 L827 562.5 L828.5 561.9 L830 561.8 L831.5 561.4 L832.9 560.7 L834.4 560.2 L835.9 560.3 L837.4 560.2 L838.9 559.1 L840.4 557.3 L841.9 556 L843.4 556.3 L844.9 557.7 L846.3 558.9 L847.8 559.2 L849.3 558.9 L850.8 558.8 L852.3 558.8 L853.8 558.2 L855.3 556.9 L856.8 555.7 L858.2 555.5 L859.7 555.9 L861.2 555.7 L862.7 554.2 L864.2 551.8 L865.7 550 L867.2 549.2 L868.7 548.9 L870.1 548.4 L871.6 547.7 L873.1 547.3 L874.6 547.2 L876.1 546.6 L877.6 544.8 L879.1 542.2 L880.6 540.3 L882 539.7 L883.5 539.7 L885 539 L886.5 537.3 L888 535.3 L889.5 533.8 L891 532.6 L892.5 531.3 L894 529.7 L895.4 528.8 L896.9 529 L898.4 529.6 L899.9 529.3 L901.4 527.6 L902.9 525.2 L904.4 523.4 L905.9 522.5 L907.3 521.8 L908.8 520.7 L910.3 519.4 L911.8 518.5 L913.3 518 L914.8 517 L916.3 515.2 L917.8 513.4 L919.2 512.6 L920.7 513.4 L922.2 514.6 L923.7 514.9 L925.2 514 L926.7 512.9 L928.2 512.1 L929.7 511.3 L931.1 510.1 L932.6 508.6 L934.1 507.6 L935.6 507.4 L937.1 507.2 L938.6 505.7 L940.1 502.7 L941.6 499.5 L943.1 497.2 L944.5 495.7 L946 494.3 L947.5 492.4 L949 490.4 L950.5 489 L952 488 L953.5 486.7 L955 484.6 L956.4 482.7 L957.9 482 L959.4 482.5 L960.9 482.9 L962.4 482.2 L963.9 480.6 L965.4 479.1 L966.9 478.4 L968.3 478 L969.8 477.2 L971.3 476.5 L972.8 476.5 L974.3 477.2 L975.8 477.6 L977.3 476.6 L978.8 474.4 L980.2 472.4 L981.7 471.4 L983.2 471.4 L984.7 471.2 L986.2 470.4 L987.7 469.5 L989.2 469.1 L990.7 468.7 L992.2 467.6 L993.6 466 L995.1 464.7 L996.6 464.7 L998.1 465.5 L999.6 465.8 L1001.1 464.7 L1002.6 462.6 L1004.1 460.7 L1005.5 459.4 L1007 458.1 L1008.5 456.5 L1010 455 L1011.5 454.4 L1013 454.3 L1014.5 453.9 L1016 452.2 L1017.4 449.8 L1018.9 448 L1020.4 447.5 L1021.9 447.6 L1023.4 447.2 L1024.9 445.9 L1026.4 444.4 L1027.9 442.9 L1029.3 441.3 L1030.8 438.8 L1032.3 435.9 L1033.8 433.6 L1035.3 432.8 L1036.8 432.8 L1038.3 432.2 L1039.8 430.5 L1041.3 428.4 L1042.7 427 L1044.2 426.4 L1045.7 425.9 L1047.2 425.1 L1048.7 424.3 L1050.2 424.1 L1051.7 424.2 L1053.2 423.3 L1054.6 421 L1056.1 418.3 L1057.6 416.4 L1059.1 415.9 L1060.6 415.9 L1062.1 415.2 L1063.6 413.9 L1065.1 412.7 L1066.5 411.9 L1068 410.8 L1069.5 409.1 L1071 407.1 L1072.5 405.9 L1074 405.9 L1075.5 405.9 L1077 404.8 L1078.4 402.4 L1079.9 399.7 L1081.4 397.8 L1082.9 396.6 L1084.4 395.5 L1085.9 394.1 L1087.4 393.2 L1088.9 393 L1090.4 392.9 L1091.8 392 L1093.3 389.9 L1094.8 387.8 L1096.3 386.7 L1097.8 386.8 L1099.3 386.8 L1100.8 385.9 L1102.3 384.2 L1103.7 382.5 L1105.2 381.1 L1106.7 379.6 L1108.2 377.5 L1109.7 375.6 L1111.2 374.9 L1112.7 375.3 L1114.2 375.8 L1115.6 375 L1117.1 373.2 L1118.6 371.4 L1120.1 370.5 L1121.6 370.1 L1123.1 369.5 L1124.6 368.4 L1126.1 367.4 L1127.5 366.9 L1129 366.1 L1130.5 364.3 L1132 361.6 L1133.5 359.4 L1135 358.6 L1136.5 359 L1138 359.3 L1139.5 358.7 L1140.9 357.5 L1142.4 356.6 L1143.9 355.9 L1145.4 354.8 L1146.9 353.2 L1148.4 351.6 L1149.9 350.9 L1151.4 350.8 L1152.8 350.1 L1154.3 347.9 L1155.8 344.8 L1157.3 342.1 L1158.8 340.7 L1160.3 339.8 L1161.8 338.9 L1163.3 337.8 L1164.7 337.1 L1166.2 336.8 L1167.7 336.3 L1169.2 334.7 L1170.7 332.5 L1172.2 330.8 L1173.7 330.4 L1175.2 330.7 L1176.6 330.3 L1178.1 328.8 L1179.6 326.9 L1181.1 325.4 L1182.6 324.2 L1184.1 322.9 L1185.6 321.3 L1187.1 320.3 L1188.6 320.3 L1190 320.9 L1191.5 320.6 L1193 318.8 L1194.5 316.4 L1196 314.5 L1197.5 313.6 L1199 312.9 L1200.5 311.6 L1201.9 309.9 L1203.4 308.5 L1204.9 307.3 L1206.4 305.7 L1207.9 303.1 L1209.4 300.3 L1210.9 298.6 L1212.4 298.3 L1213.8 298.5 L1215.3 297.9 L1216.8 296.2 L1218.3 294.2 L1219.8 292.7 L1221.3 291.4 L1222.8 289.8 L1224.3 287.9 L1225.7 286.5 L1227.2 286.1 L1228.7 285.9 L1230.2 284.6 L1231.7 282.2 L1233.2 279.7 L1234.7 278.3 L1236.2 278.1 L1237.7 278.1 L1239.1 277.5 L1240.6 276.7 L1242.1 276 L1243.6 275.5 L1245.1 274.2 L1246.6 271.9 L1248.1 269.4 L1249.6 268 L1251 267.7 L1252.5 267.4 L1254 265.9 L1255.5 263.4 L1257 260.8 L1258.5 258.6 L1260 256.6 L1261.5 254.2 L1262.9 251.6 L1264.4 249.5 L1265.9 248.3 L1267.4 247 L1268.9 244.6 L1270.4 241.4 L1271.9 238.7 L1273.4 237.3 L1274.8 237.1 L1276.3 236.8 L1277.8 235.8 L1279.3 234.5 L1280.8 233.5 L1282.3 232.6 L1283.8 231.2 L1285.3 229.2 L1286.8 227.5 L1288.2 227.1 L1289.7 227.8 L1291.2 228 L1292.7 226.8 L1294.2 224.7 L1295.7 222.8 L1297.2 221.5 L1298.7 220.3 L1300.1 218.9 L1301.6 217.4 L1303.1 216.6 L1304.6 216.4 L1306.1 215.9 L1307.6 214.2 L1309.1 211.7 L1310.6 209.7 L1312 209 L1313.5 208.9 L1315 208.4 L1316.5 206.9 L1318 205.1 L1319.5 203.5 L1321 201.6 L1322.5 199.1 L1323.9 196 L1325.4 193.5 L1326.9 192.4 L1328.4 192.2 L1329.9 191.4 L1331.4 189.3 L1332.9 186.8 L1334.4 184.9 L1331 191" fill="none" stroke="#ff0000" stroke-width="8" stroke-linecap="round" stroke-linejoin="round"/>
<path d="M177 785.2 C179.6 783.7 186.8 778.3 192.3 776 C197.8 773.7 204.3 773 210.1 771.5 C215.8 770 222.3 769.1 226.8 767.1 C231.3 765.1 233.4 762.1 236.9 759.3 C240.4 756.5 243.2 753.2 248 750.4 C252.8 747.6 259.8 744 265.4 742.6 C271 741.2 276.5 743 281.4 742.1 C286.3 741.2 289.6 739.5 294.8 737 C300 734.5 305.9 731.1 312.6 727 C319.3 722.9 327.9 716.6 334.9 712.5 C341.9 708.4 348.2 706.2 354.5 702.5 C360.8 698.8 367.2 693.4 372.8 690.2 C378.4 687 383.2 686.3 388.4 683.5 C393.6 680.7 398.4 677.6 404 673.5 C409.6 669.4 415.2 665.3 421.8 659 C428.4 652.7 437.3 641.1 443.7 635.6 C450.1 630.1 454.3 629.6 460 626 C465.7 622.4 471.9 618.9 477.9 613.7 C483.8 608.5 491.2 598.3 495.7 594.8 C500.1 591.3 500.9 592.5 504.6 592.5 C508.3 592.5 513.9 594 518 594.8 C522.1 595.6 526.1 597.6 529.1 597.4 C532.1 597.2 532.4 596.9 535.8 593.7 C539.1 590.5 544.4 582.6 549.2 578.1 C554 573.6 560.7 569.2 564.8 566.9 C568.9 564.6 570.4 564.9 573.7 564.2 C577.1 563.5 581.5 564.3 584.9 562.5 C588.2 560.7 590.8 556.9 593.8 553.5 C596.8 550.1 600.3 544.6 602.7 542.4 C605.1 540.2 605.7 540 608.3 540.2 C610.9 540.4 614.8 541.8 618.3 543.5 C621.8 545.2 625.7 548 629.4 550.2 C633.1 552.4 636.5 555.3 640.6 556.9 C644.7 558.5 648.8 558.6 654 559.6 C659.2 560.6 667.3 563 671.8 562.9 C676.2 562.8 677.4 561.2 680.7 559.1 C684 557 686.7 553.9 691.8 550.2 C696.9 546.5 705.2 541.1 711.5 536.8 C717.8 532.5 724.2 528.1 729.7 524.6 C735.2 521.1 738.7 520.3 744.5 515.9 C750.3 511.5 758.3 502.4 764.6 498.1 C770.9 493.8 776.3 491.4 782.4 489.9 C788.5 488.4 795.3 490.1 801.3 489.2 C807.2 488.3 812.7 484.3 818.1 484.3 C823.5 484.3 828.5 488.1 833.7 489.2 C838.9 490.3 844.5 491.4 849.3 491 C854.1 490.6 855.7 490.3 862.6 487 C869.5 483.7 882.3 475.9 890.5 471.4 C898.7 466.9 905.6 463 911.7 460.2 C917.8 457.4 922.1 455.8 927.3 454.7 C932.5 453.6 937.7 453.3 942.9 453.5 C948.1 453.7 954.4 456.2 958.5 455.8 C962.6 455.4 963.9 453.7 967.4 451.3 C970.9 448.9 975.1 444.6 979.6 441.3 C984.1 438 989.1 434.1 994.1 431.7 C999.1 429.3 1004.8 430.2 1009.7 426.8 C1014.6 423.4 1019.2 417.2 1023.4 411.5 C1027.5 405.8 1030.1 399.7 1034.6 392.6 C1039.1 385.6 1044.5 376.6 1050.2 369.2 C1055.9 361.8 1062.8 354.9 1068.7 348 C1074.6 341.1 1080.3 332.8 1085.8 328 C1091.2 323.2 1096.6 323 1101.4 319.1 C1106.2 315.2 1111.3 308.3 1114.8 304.6 C1118.3 300.9 1120 297.2 1122.6 296.8 C1125.2 296.4 1128 300.6 1130.4 302.3 C1132.8 304 1134.5 307.5 1137.1 306.8 C1139.7 306.1 1142.5 303.5 1146 297.9 C1149.5 292.3 1153 281.8 1157.8 273.4 C1162.6 265 1168.8 253.8 1174.6 247.7 C1180.4 241.6 1186.5 239.8 1192.4 237 C1198.3 234.2 1204.2 232.6 1210.2 230.7 C1216.2 228.8 1222 225.9 1228.1 225.4 C1234.2 224.9 1240.9 228 1246.8 227.7 C1252.7 227.4 1258.5 225.6 1263.7 223.6 C1268.9 221.6 1273.5 218.9 1278 215.6 C1282.5 212.3 1286.8 207.6 1290.5 204 C1294.2 200.4 1298.7 195.5 1300.3 193.8" fill="none" stroke="#0000ff" stroke-width="6.9" stroke-linecap="round" stroke-linejoin="round"/>
<path d="M414 648 L450.7 538.4 L522.5 538.4 M502.4 527.2 L522.5 538.4 L502.4 549.5" fill="none" stroke="#0033cc" stroke-width="2.6" stroke-linejoin="miter" stroke-linecap="round"/>
<path d="M1048.4 465 L1012 575 L939.5 575 M959.6 563.9 L939.5 575 L959.6 586.2" fill="none" stroke="#000" stroke-width="2.6" stroke-linejoin="miter" stroke-linecap="round"/>
<rect x="223" y="0" width="666.5" height="469" fill="#fff"/>
<polygon points="1232.4,95.5 1308.9,147.2 1314.2,137.4 1321.3,170.8 1286.5,177.4 1295.6,166.2 1219.1,114.5" fill="#0000ff"/>
<circle cx="1335.3" cy="187.1" r="11.2" fill="#0000ff"/>
<g stroke="#000" stroke-width="6.2" fill="none"><line x1="396.1" x2="405.4" y1="298" y2="298"/><line x1="396.1" x2="405.4" y1="241.2" y2="241.2"/><line x1="396.1" x2="405.4" y1="184.4" y2="184.4"/><line x1="396.1" x2="405.4" y1="127.6" y2="127.6"/><line x1="396.1" x2="405.4" y1="70.8" y2="70.8"/><line x1="427.7" x2="427.7" y1="354.8" y2="345.8"/><line x1="461.6" x2="461.6" y1="354.8" y2="345.8"/><line x1="495.5" x2="495.5" y1="354.8" y2="343.3"/><line x1="529.4" x2="529.4" y1="354.8" y2="345.8"/><line x1="563.3" x2="563.3" y1="354.8" y2="345.8"/><line x1="597.2" x2="597.2" y1="354.8" y2="343.3"/><line x1="631.1" x2="631.1" y1="354.8" y2="345.8"/><line x1="665" x2="665" y1="354.8" y2="345.8"/><line x1="698.9" x2="698.9" y1="354.8" y2="343.3"/><line x1="732.8" x2="732.8" y1="354.8" y2="345.8"/><line x1="766.7" x2="766.7" y1="354.8" y2="345.8"/><line x1="800.6" x2="800.6" y1="354.8" y2="343.3"/></g>
<rect x="396.1" y="14" width="439.5" height="340.8" fill="none" stroke="#000" stroke-width="6.8" stroke-linejoin="round"/>
<clipPath id="ic"><rect x="380" y="10.8" width="470" height="360"/></clipPath>
<path d="M391.7 269.6 L398.5 281 L405.3 225.3 L412 224.2 L418.8 232.1 L425.6 248 L432.4 227.6 L439.2 234.4 L445.9 229.8 L452.7 286.6 L459.5 266.2 L466.3 254.8 L473.1 245.7 L479.8 259.4 L486.6 229.8 L493.4 234.4 L500.2 259.4 L507 238.9 L513.7 204.8 L520.5 257.1 L527.3 243.5 L534.1 263.9 L540.9 200.3 L547.6 225.3 L554.4 204.8 L561.2 182.1 L568 168.5 L574.8 209.4 L581.5 170.8 L588.3 204.8 L595.1 213.9 L601.9 200.3 L608.7 168.5 L615.4 152.6 L622.2 179.9 L629 139 L635.8 150.3 L642.6 191.2 L649.3 188.9 L656.1 170.8 L662.9 139 L669.7 166.2 L676.5 136.7 L683.2 102.6 L690 154.9 L696.8 152.6 L703.6 118.5 L710.4 98.1 L717.1 100.3 L723.9 120.8 L730.7 86.7 L737.5 95.8 L744.3 91.2 L751 118.5 L757.8 91.2 L764.6 77.6 L771.4 102.6 L778.2 93.5 L784.9 86.7 L791.7 70.8 L798.5 36.7 L805.3 9.5 L812.1 32.2 L818.8 48.1 L825.6 14" fill="none" stroke="#4a452a" stroke-width="6.0" stroke-linecap="butt" stroke-linejoin="bevel" clip-path="url(#ic)"/>
<g fill="none" stroke="#4a452a" stroke-width="4.2"><circle cx="391.7" cy="269.6" r="5.5"/><circle cx="398.5" cy="281" r="5.5"/><circle cx="405.3" cy="225.3" r="5.5"/><circle cx="412" cy="224.2" r="5.5"/><circle cx="418.8" cy="232.1" r="5.5"/><circle cx="425.6" cy="248" r="5.5"/><circle cx="432.4" cy="227.6" r="5.5"/><circle cx="439.2" cy="234.4" r="5.5"/><circle cx="445.9" cy="229.8" r="5.5"/><circle cx="452.7" cy="286.6" r="5.5"/><circle cx="459.5" cy="266.2" r="5.5"/><circle cx="466.3" cy="254.8" r="5.5"/><circle cx="473.1" cy="245.7" r="5.5"/><circle cx="479.8" cy="259.4" r="5.5"/><circle cx="486.6" cy="229.8" r="5.5"/><circle cx="493.4" cy="234.4" r="5.5"/><circle cx="500.2" cy="259.4" r="5.5"/><circle cx="507" cy="238.9" r="5.5"/><circle cx="513.7" cy="204.8" r="5.5"/><circle cx="520.5" cy="257.1" r="5.5"/><circle cx="527.3" cy="243.5" r="5.5"/><circle cx="534.1" cy="263.9" r="5.5"/><circle cx="540.9" cy="200.3" r="5.5"/><circle cx="547.6" cy="225.3" r="5.5"/><circle cx="554.4" cy="204.8" r="5.5"/><circle cx="561.2" cy="182.1" r="5.5"/><circle cx="568" cy="168.5" r="5.5"/><circle cx="574.8" cy="209.4" r="5.5"/><circle cx="581.5" cy="170.8" r="5.5"/><circle cx="588.3" cy="204.8" r="5.5"/><circle cx="595.1" cy="213.9" r="5.5"/><circle cx="601.9" cy="200.3" r="5.5"/><circle cx="608.7" cy="168.5" r="5.5"/><circle cx="615.4" cy="152.6" r="5.5"/><circle cx="622.2" cy="179.9" r="5.5"/><circle cx="629" cy="139" r="5.5"/><circle cx="635.8" cy="150.3" r="5.5"/><circle cx="642.6" cy="191.2" r="5.5"/><circle cx="649.3" cy="188.9" r="5.5"/><circle cx="656.1" cy="170.8" r="5.5"/><circle cx="662.9" cy="139" r="5.5"/><circle cx="669.7" cy="166.2" r="5.5"/><circle cx="676.5" cy="136.7" r="5.5"/><circle cx="683.2" cy="102.6" r="5.5"/><circle cx="690" cy="154.9" r="5.5"/><circle cx="696.8" cy="152.6" r="5.5"/><circle cx="703.6" cy="118.5" r="5.5"/><circle cx="710.4" cy="98.1" r="5.5"/><circle cx="717.1" cy="100.3" r="5.5"/><circle cx="723.9" cy="120.8" r="5.5"/><circle cx="730.7" cy="86.7" r="5.5"/><circle cx="737.5" cy="95.8" r="5.5"/><circle cx="744.3" cy="91.2" r="5.5"/><circle cx="751" cy="118.5" r="5.5"/><circle cx="757.8" cy="91.2" r="5.5"/><circle cx="764.6" cy="77.6" r="5.5"/><circle cx="771.4" cy="102.6" r="5.5"/><circle cx="778.2" cy="93.5" r="5.5"/><circle cx="784.9" cy="86.7" r="5.5"/><circle cx="791.7" cy="70.8" r="5.5"/><circle cx="798.5" cy="36.7" r="5.5"/><circle cx="812.1" cy="32.2" r="5.5"/><circle cx="818.8" cy="48.1" r="5.5"/><circle cx="825.6" cy="14" r="5.5"/></g>
<path d="M396.2 252.8 C397.9 252.4 403 252.7 406.7 250.3 C410.4 247.9 414.8 241.5 418.4 238.6 C422 235.7 425.4 233.1 428.5 232.8 C431.6 232.5 433.7 234.9 436.8 237 C439.9 239.1 443.3 242.8 446.9 245.3 C450.5 247.8 454.7 250.3 458.6 252 C462.5 253.7 466.1 256.1 470.3 255.4 C474.5 254.7 478.3 250.2 483.6 247.8 C488.9 245.4 495.3 242.2 502 241.1 C508.7 240 517.3 243.2 523.7 241.1 C530.1 239 535.5 234.3 540.5 228.6 C545.5 222.9 549.9 212.6 553.8 206.9 C557.7 201.2 560 196.8 563.9 194.3 C567.8 191.8 572.2 192.1 577.2 191.8 C582.2 191.5 588.9 194.4 593.9 192.7 C598.9 191 602.4 186.2 607.3 181.5 C612.2 176.8 618.2 166.4 623.4 164.3 C628.6 162.2 632.4 169 638.3 169 C644.2 169 653.1 167.4 658.7 164.3 C664.3 161.2 667.1 154.3 671.7 150.6 C676.4 146.9 681 146.5 686.6 142.3 C692.2 138.1 698.9 131.7 705.1 125.6 C711.3 119.5 717.8 110.7 723.7 106 C729.6 101.3 734.8 99.4 740.4 97.5 C746 95.6 751.5 95.9 757.1 94.7 C762.7 93.5 768.8 93.5 773.8 90.1 C778.8 86.7 782.5 80.3 786.8 74.3 C791.1 68.3 795.5 60.1 799.8 53.9 C804.1 47.7 807.7 43.1 812.8 37.1 C817.9 31.1 827.5 20.9 830.5 17.6" fill="none" stroke="#ff0000" stroke-width="6.8" stroke-linecap="butt" stroke-linejoin="round"/>
<line x1="418.5" x2="478.5" y1="46.3" y2="46.3" stroke="#4a452a" stroke-width="7.2" stroke-linecap="round"/>
<circle cx="446.5" cy="46.3" r="6.1" fill="none" stroke="#4a452a" stroke-width="3.6"/>
<line x1="418.5" x2="478.5" y1="87.4" y2="87.4" stroke="#ff0000" stroke-width="7.2" stroke-linecap="round"/>
<text x="494" y="57.1" font-size="36" font-weight="bold" word-spacing="2.2">annual mean</text>
<text x="483.2" y="97.7" font-size="36" font-weight="bold" word-spacing="3.8" xml:space="preserve">5-year mean</text>
<text x="140.2" y="944.4" font-size="43.5" text-anchor="end">300</text>
<text x="140.2" y="812.4" font-size="43.5" text-anchor="end">320</text>
<text x="140.2" y="680.4" font-size="43.5" text-anchor="end">340</text>
<text x="140.2" y="548.4" font-size="43.5" text-anchor="end">360</text>
<text x="140.2" y="416.3" font-size="43.5" text-anchor="end">380</text>
<text x="140.2" y="284.3" font-size="43.5" text-anchor="end">400</text>
<text x="140.2" y="152.3" font-size="43.5" text-anchor="end">420</text>
<text x="176.4" y="996.2" font-size="43" text-anchor="middle">1955</text>
<text x="354.9" y="996.2" font-size="43" text-anchor="middle">1965</text>
<text x="533.5" y="996.2" font-size="43" text-anchor="middle">1975</text>
<text x="712" y="996.2" font-size="43" text-anchor="middle">1985</text>
<text x="890.6" y="996.2" font-size="43" text-anchor="middle">1995</text>
<text x="1069.1" y="996.2" font-size="43" text-anchor="middle">2005</text>
<text x="1247.7" y="996.2" font-size="43" text-anchor="middle">2015</text>
<text x="1391.9" y="944.4" font-size="43.5" fill="#0033cc">0</text>
<text x="1391.9" y="845.4" font-size="43.5" fill="#0033cc">5</text>
<text x="1391.9" y="746.4" font-size="43.5" fill="#0033cc">10</text>
<text x="1391.9" y="647.4" font-size="43.5" fill="#0033cc">15</text>
<text x="1391.9" y="548.4" font-size="43.5" fill="#0033cc">20</text>
<text x="1391.9" y="449.3" font-size="43.5" fill="#0033cc">25</text>
<text x="1391.9" y="350.3" font-size="43.5" fill="#0033cc">30</text>
<text x="1391.9" y="251.3" font-size="43.5" fill="#0033cc">35</text>
<text x="1391.9" y="152.3" font-size="43.5" fill="#0033cc">40</text>
<text x="778" y="1076" font-size="49" font-weight="bold" text-anchor="middle" letter-spacing="0.9">Year</text>
<text transform="translate(33.2 516.6) rotate(-90)" font-size="48" font-weight="bold" text-anchor="middle" word-spacing="1.0">Atm CO<tspan font-size="33.5" dy="10">2</tspan><tspan dy="-10"> Conc. (ppmv)</tspan></text>
<text transform="translate(1490.3 536.5) rotate(-90)" font-size="48" font-weight="bold" text-anchor="middle" word-spacing="3.2" fill="#0033cc" xml:space="preserve">Global CO<tspan font-size="33.5" dy="10">2</tspan><tspan dy="-10"> Emissions (Gt)</tspan></text>
<text x="1090.8" y="90.4" font-size="47.5" font-weight="bold" fill="#0000ff">412 ppm</text>
<text x="363" y="366" font-size="36.2" text-anchor="end">-0.5</text>
<text x="363" y="309.2" font-size="36.2" text-anchor="end">-0.25</text>
<text x="363" y="252.4" font-size="36.2" text-anchor="end">0</text>
<text x="363" y="195.6" font-size="36.2" text-anchor="end">0.25</text>
<text x="363" y="138.8" font-size="36.2" text-anchor="end">0.5</text>
<text x="363" y="82" font-size="36.2" text-anchor="end">0.75</text>
<text x="363" y="23.9" font-size="36.2" text-anchor="end">1</text>
<text x="395.1" y="408.8" font-size="36.3" text-anchor="middle">1955</text>
<text x="496.8" y="408.8" font-size="36.3" text-anchor="middle">1970</text>
<text x="598.5" y="408.8" font-size="36.3" text-anchor="middle">1985</text>
<text x="700.2" y="408.8" font-size="36.3" text-anchor="middle">2000</text>
<text x="801.9" y="408.8" font-size="36.3" text-anchor="middle">2015</text>
<text x="605.5" y="455.1" font-size="44.3" font-weight="bold" text-anchor="middle">Year</text>
<text transform="translate(266.7 197.6) rotate(-90) scale(0.958 1)" font-size="44.8" font-weight="bold" text-anchor="middle">Temp. Anomaly, ºC</text>
</svg>
</body></html>
